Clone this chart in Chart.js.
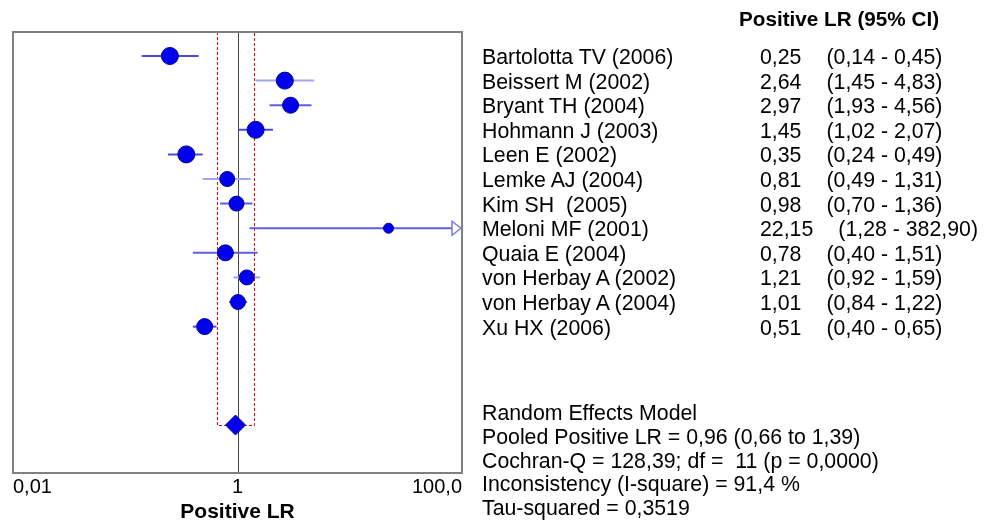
<!DOCTYPE html>
<html>
<head>
<meta charset="utf-8">
<script src="https://cdn.jsdelivr.net/npm/chart.js@4/dist/chart.umd.min.js"></script>
<style>
  html, body { margin: 0; padding: 0; background: #fff; overflow: hidden; }
  #wrap { position: relative; width: 984px; height: 520px; overflow: hidden; }
  #forestChart { position: absolute; left: 0; top: 0; }
  .txt { position: absolute; font-family: "Liberation Sans", Arial, sans-serif; font-size: 21.3px; color: #000; white-space: pre; line-height: 24px; }
  .hdr { font-weight: bold; font-size: 20.7px; }
</style>
</head>
<body>
<div id="wrap">
  <canvas id="forestChart" width="984" height="520"></canvas>
</div>
<script>
// 研究ごとのデータ
const studies = [
  'Bartolotta TV (2006)', 'Beissert M (2002)', 'Bryant TH (2004)', 'Hohmann J (2003)',
  'Leen E (2002)', 'Lemke AJ (2004)', 'Kim SH  (2005)', 'Meloni MF (2001)',
  'Quaia E (2004)', 'von Herbay A (2002)', 'von Herbay A (2004)', 'Xu HX (2006)'
];
const lrValues = [0.25, 2.64, 2.97, 1.45, 0.35, 0.81, 0.98, 22.15, 0.78, 1.21, 1.01, 0.51];
const ciLow    = [0.14, 1.45, 1.93, 1.02, 0.24, 0.49, 0.70, 1.28, 0.40, 0.92, 0.84, 0.40];
const ciHigh   = [0.45, 4.83, 4.56, 2.07, 0.49, 1.31, 1.36, 382.90, 1.51, 1.59, 1.22, 0.65];

// 統合結果
const pooledLR = 0.96;
const pooledLow = 0.66;
const pooledHigh = 1.39;
const pooledRow = 15;

const xTicks = [0.01, 1, 100];
const xTickLabels = ['0,01', '1', '100,0'];

const summaryLines = [
  'Random Effects Model',
  'Pooled Positive LR = 0,96 (0,66 to 1,39)',
  'Cochran-Q = 128,39; df =  11 (p = 0,0000)',
  'Inconsistency (I-square) = 91,4 %',
  'Tau-squared = 0,3519'
];

const fmt = v => v.toFixed(2).replace('.', ',');

const lineColors = ['#4a4ad8', '#a3a3f2', '#5c5ce4', '#4a4ad8', '#4a4ad8', '#a3a3f2',
  '#5c5ce4', '#5c5ce4', '#5c5ce4', '#a3a3f2', '#5c5ce4', '#4a4ad8'];
const radii = [8.5, 8.5, 8, 8.5, 8.5, 7.5, 7.5, 5, 8, 7.5, 7.5, 8];

// 信頼区間・参照線・枠を描くプラグイン
const forestPlugin = {
  id: 'forestPlugin',
  beforeDatasetsDraw(chart) {
    const { ctx, chartArea: a, scales: { x, y } } = chart;
    ctx.save();

    // 統合CIの赤い点線枠
    const px0 = Math.round(x.getPixelForValue(pooledLow)) + 0.5;
    const px1 = Math.round(x.getPixelForValue(pooledHigh)) + 0.5;
    const pyB = Math.round(y.getPixelForValue(pooledRow)) + 0.5;
    ctx.strokeStyle = '#ff0000';
    ctx.lineWidth = 1;
    ctx.setLineDash([3, 2]);
    ctx.beginPath();
    ctx.moveTo(px0, a.top);
    ctx.lineTo(px0, pyB);
    ctx.lineTo(px1, pyB);
    ctx.lineTo(px1, a.top);
    ctx.stroke();
    ctx.setLineDash([]);

    // LR = 1 の線
    const p1 = Math.round(x.getPixelForValue(1)) + 0.5;
    ctx.strokeStyle = '#444';
    ctx.lineWidth = 1;
    ctx.beginPath();
    ctx.moveTo(p1, a.top);
    ctx.lineTo(p1, a.bottom);
    ctx.stroke();

    // 各研究のCI
    studies.forEach((s, i) => {
      const py = y.getPixelForValue(i);
      const clipped = ciHigh[i] > x.max;
      const xl = x.getPixelForValue(Math.max(ciLow[i], x.min));
      const xr = x.getPixelForValue(Math.min(ciHigh[i], x.max));
      ctx.strokeStyle = lineColors[i];
      ctx.lineWidth = 2;
      ctx.beginPath();
      ctx.moveTo(xl, py);
      ctx.lineTo(clipped ? xr - 10 : xr, py);
      ctx.stroke();
      if (clipped) {
        ctx.fillStyle = '#fff';
        ctx.strokeStyle = '#7a7ae8';
        ctx.lineWidth = 1.5;
        ctx.beginPath();
        ctx.moveTo(xr - 10, py - 7);
        ctx.lineTo(xr - 1, py);
        ctx.lineTo(xr - 10, py + 7);
        ctx.closePath();
        ctx.fill();
        ctx.stroke();
      }
    });
    ctx.restore();
  },
  afterDraw(chart) {
    const { ctx, chartArea: a } = chart;
    ctx.save();
    ctx.strokeStyle = '#808080';
    ctx.lineWidth = 2;
    ctx.strokeRect(a.left, a.top, a.right - a.left, a.bottom - a.top);
    ctx.restore();
  }
};

const chartElement = document.getElementById('forestChart');
const forestChart = new Chart(chartElement, {
  type: 'scatter',
  data: {
    datasets: [
      {
        label: 'Studies',
        data: lrValues.map((v, i) => ({ x: v, y: i })),
        backgroundColor: '#0000ee',
        borderColor: '#00008a',
        borderWidth: 1,
        pointRadius: radii
      },
      {
        label: 'Pooled',
        data: [{ x: pooledLR, y: pooledRow }],
        pointStyle: 'rectRot',
        backgroundColor: '#0000ee',
        borderColor: '#00008a',
        borderWidth: 1,
        pointRadius: 10
      }
    ]
  },
  options: {
    responsive: false,
    animation: false,
    layout: {
      padding: { left: 13, right: 522, top: 32, bottom: 0 }
    },
    scales: {
      x: {
        type: 'logarithmic',
        min: 0.01,
        max: 100,
        grid: { display: false, drawTicks: false, tickLength: 0 },
        border: { display: false },
        afterBuildTicks: (scale) => {
          scale.ticks = xTicks.map(v => ({ value: v }));
        },
        afterFit: (scale) => { scale.height = 47; },
        ticks: {
          align: 'inner',
          padding: 2,
          color: '#000',
          font: { family: 'Liberation Sans', size: 20 },
          callback: (value) => {
            const k = xTicks.indexOf(value);
            return k >= 0 ? xTickLabels[k] : '';
          }
        },
        title: {
          display: true,
          text: 'Positive LR',
          color: '#000',
          padding: { top: 0, bottom: -5 },
          font: { family: 'Liberation Sans', size: 21, weight: 'bold' }
        }
      },
      y: {
        display: false,
        reverse: true,
        min: -0.976,
        max: 16.95
      }
    },
    plugins: {
      legend: { display: false },
      tooltip: { enabled: false }
    }
  },
  plugins: [forestPlugin]
});

// 右側のテキスト（表と統計）
const wrap = document.getElementById('wrap');
const yScale = forestChart.scales.y;
const nameX = 482;
const valueX = 760;

function addText(html, left, centerY, cls) {
  const d = document.createElement('div');
  d.className = 'txt' + (cls ? ' ' + cls : '');
  d.innerHTML = html;
  d.style.left = left + 'px';
  d.style.top = (centerY - 12) + 'px';
  wrap.appendChild(d);
  return d;
}

addText('Positive LR (95% CI)', 739, 19, 'hdr');

studies.forEach((s, i) => {
  const cy = yScale.getPixelForValue(i) + 1;
  addText(s, nameX, cy);
  addText(fmt(lrValues[i]) + '<span style="margin-left:25px">(' + fmt(ciLow[i]) + ' - ' + fmt(ciHigh[i]) + ')</span>', valueX, cy);
});

summaryLines.forEach((t, k) => {
  addText(t, nameX, 413 + k * 23.8);
});
</script>
</body>
</html>
